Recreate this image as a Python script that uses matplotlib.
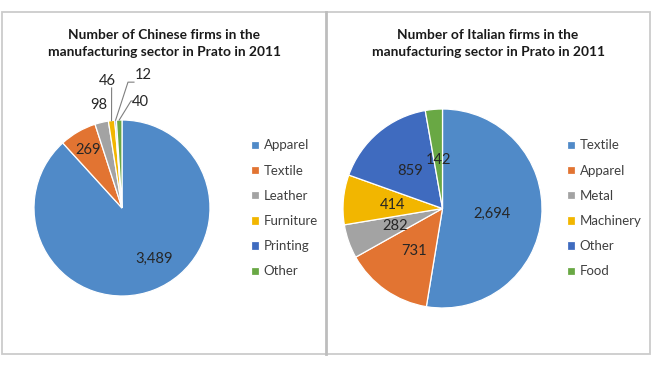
import matplotlib
matplotlib.use('Agg')
import matplotlib.pyplot as plt
from matplotlib.patches import Rectangle
from matplotlib.lines import Line2D
import numpy as np

# ---------------- data ----------------
chinese_sectors = ['Apparel', 'Textile', 'Leather', 'Furniture', 'Printing', 'Other']
chinese_firms = [3489, 269, 98, 46, 12, 40]
italian_sectors = ['Textile', 'Apparel', 'Metal', 'Machinery', 'Other', 'Food']
italian_firms = [2694, 731, 282, 414, 859, 142]
chinese_title = 'Number of Chinese firms in the\nmanufacturing sector in Prato in 2011'
italian_title = 'Number of Italian firms in the\nmanufacturing sector in Prato in 2011'

# ---------------- style ----------------
W, H = 657, 366
palette = ['#508AC8', '#E27432', '#A3A3A3', '#F2B600', '#3F6BBF', '#69A844']
FONT = 'Lato'
TXT = '#404040'
plt.rcParams['font.family'] = [FONT, 'DejaVu Sans']

fig = plt.figure(figsize=(W / 100, H / 100), dpi=100)
fig.patch.set_facecolor('white')

def fx(px):
    return px / W

def fy(py):
    return 1 - py / H

# frame and divider
fig.add_artist(Rectangle((fx(2), fy(354)), fx(648), (354 - 12) / H,
                         transform=fig.transFigure, fill=False,
                         ec='#CBCBCB', lw=1.3))
fig.add_artist(Line2D([fx(326), fx(326)], [fy(12), fy(354)],
                      transform=fig.transFigure, color='#BDBDBD', lw=2.0))


def draw_pie(values, names, title, cx, cy, r, title_x, legend_x,
             label_pos, leaders):
    ax = fig.add_axes([fx(cx - r), fy(cy + r), 2 * r / W, 2 * r / H])
    wedges, _ = ax.pie(values, colors=palette[:len(values)], startangle=90,
                       counterclock=False, radius=1,
                       wedgeprops=dict(edgecolor='white', linewidth=0.9))
    ax.set_xlim(-1, 1)
    ax.set_ylim(-1, 1)
    ax.set_aspect('auto')
    ax.axis('off')
    for v, (lx, ly) in zip(values, label_pos):
        ax.text(lx, ly, f'{v:,}', ha='center', va='center', fontsize=10.6,
                color='#262626', clip_on=False)
    # leader lines from wedge mid points
    for idx, pts in leaders.items():
        w = wedges[idx]
        mid = np.deg2rad((w.theta1 + w.theta2) / 2)
        xs = [np.cos(mid)] + [p[0] for p in pts]
        ys = [np.sin(mid)] + [p[1] for p in pts]
        ax.plot(xs, ys, color='#7F7F7F', lw=0.8, clip_on=False)
    fig.text(fx(title_x), fy(43.5), title, ha='center', va='center',
             fontsize=9.9, fontweight='bold', color='#1A1A1A',
             linespacing=1.5)
    fig.legend(wedges, names, loc='upper left',
               bbox_to_anchor=(fx(legend_x), fy(139.5)),
               frameon=False, fontsize=9.5, handlelength=0.6,
               handleheight=0.6, handletextpad=0.35, labelspacing=1.0,
               borderpad=0, borderaxespad=0, labelcolor=TXT)
    return ax


draw_pie(chinese_firms, chinese_sectors, chinese_title,
         122, 208, 88, 164, 251,
         [(0.37, -0.58), (-0.386, 0.66), (-0.26, 1.17), (-0.17, 1.44),
          (0.24, 1.51), (0.205, 1.205)],
         {3: [(-0.118, 1.364)],
          4: [(0.068, 1.43), (0.136, 1.43)],
          5: [(0.102, 1.216), (0.125, 1.216)]})

draw_pie(italian_firms, italian_sectors, italian_title,
         442.5, 208.5, 99.5, 488, 567,
         [(0.494, -0.055), (-0.286, -0.424), (-0.477, -0.176),
          (-0.5, 0.032), (-0.327, 0.38), (-0.042, 0.487)],
         {})

fig.savefig('out.png', dpi=100, facecolor='white')
